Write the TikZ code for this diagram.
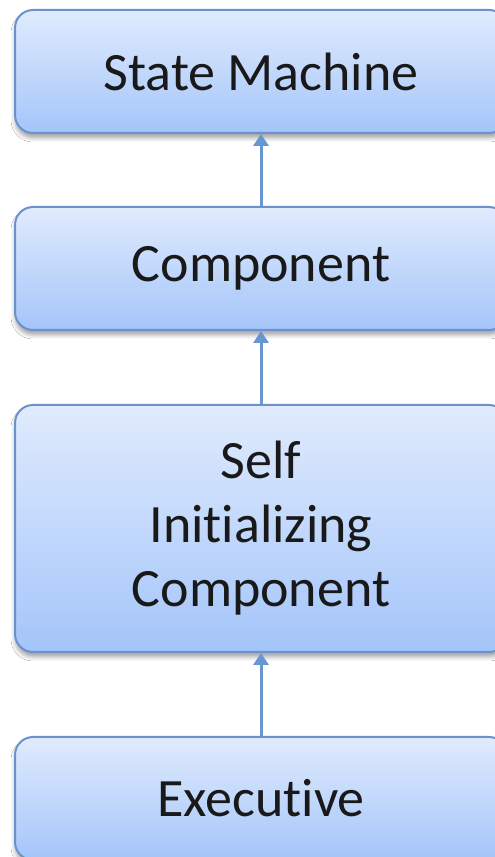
\documentclass[tikz,border=0pt]{standalone}
\usepackage{fontspec}
\setmainfont{Carlito}[Ligatures=NoCommon]
\usetikzlibrary{arrows.meta,shadows.blur}
\definecolor{boxtop}{RGB}{224,235,253}
\definecolor{boxbot}{RGB}{164,197,250}
\definecolor{boxedge}{RGB}{108,146,206}
\definecolor{arrowc}{RGB}{104,150,210}
\definecolor{txt}{RGB}{25,25,25}
\tikzset{
  box/.style={rectangle, rounded corners=18pt, draw=boxedge, line width=2pt,
    top color=boxtop, bottom color=boxbot, minimum width=492pt,
    text=txt, align=center, inner sep=0pt,
    font=\fontsize{54}{64}\selectfont,
    blur shadow={shadow xshift=0pt, shadow yshift=-5pt, shadow blur radius=4pt, shadow opacity=35}},
  link/.style={draw=arrowc, line width=3pt, -{Triangle[length=12pt,width=15pt]}}
}
\begin{document}
\begin{tikzpicture}[x=1pt,y=1pt]
\useasboundingbox (0,0) rectangle (495,857);
\fill[white] (0,0) rectangle (495,857);
\node[box, minimum height=123pt] (sm) at (261,785.5) {State Machine};
\node[box, minimum height=123pt] (comp) at (261,588.5) {Component};
\node[box, minimum height=247pt] (sic) at (261,328.5) {Self\\Initializing\\Component};
\node[box, minimum height=123pt] (exec) at (261,58.5) {Executive};
\draw[link] (comp.north) -- (sm.south);
\draw[link] (sic.north) -- (comp.south);
\draw[link] (exec.north) -- (sic.south);
\end{tikzpicture}
\end{document}
